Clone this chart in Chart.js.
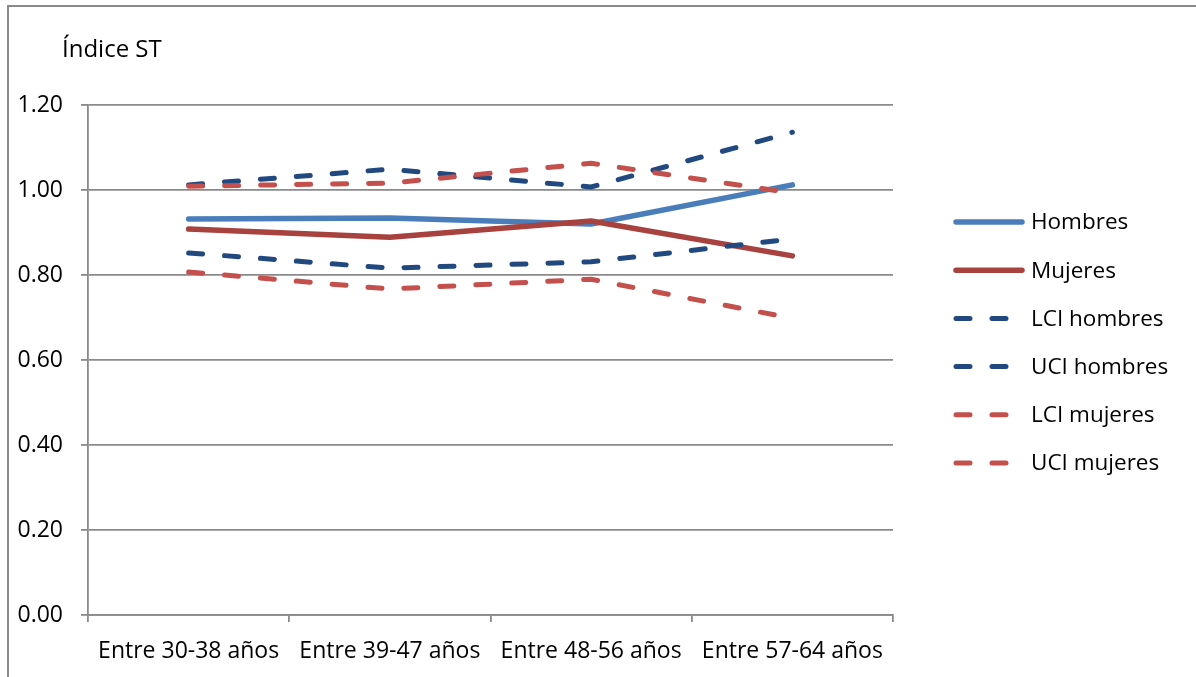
<!DOCTYPE html>
<html>
<head>
<meta charset="utf-8">
<script src="https://cdn.jsdelivr.net/npm/chart.js@4.4.1/dist/chart.umd.min.js"></script>
<style>
    body { margin: 0; background: #fff; }
    #wrap { position: absolute; left: 0; top: 0; width: 1196px; height: 677px; overflow: hidden; }
    #frame { position: absolute; left: 7px; top: 5px; width: 1400px; height: 900px; border: 2px solid #8a8a8a; }
    canvas { position: absolute; left: 0; top: 0; }
</style>
</head>
<body>
<div id="wrap">
    <div id="frame"></div>
    <canvas id="chart" width="1196" height="677"></canvas>
</div>
<script>
    const categories = ['Entre 30-38 años', 'Entre 39-47 años', 'Entre 48-56 años', 'Entre 57-64 años'];
    const hombres = [0.932, 0.934, 0.920, 1.012];
    const mujeres = [0.908, 0.889, 0.927, 0.845];
    const lciHombres = [0.852, 0.816, 0.831, 0.885];
    const uciHombres = [1.012, 1.049, 1.007, 1.136];
    const lciMujeres = [0.807, 0.767, 0.790, 0.698];
    const uciMujeres = [1.009, 1.016, 1.063, 0.993];
    const yTicks = [0, 0.2, 0.4, 0.6, 0.8, 1.0, 1.2];

    const FONT = "'Open Sans', sans-serif";
    const gridColor = '#8a8a8a';
    const DASH = [14, 22];

    const solid = (label, data, color) => ({
        label: label, data: data, borderColor: color, backgroundColor: color,
        borderWidth: 5.5, pointRadius: 0, tension: 0, borderCapStyle: 'round', borderJoinStyle: 'round'
    });
    const dashed = (label, data, color) => ({
        label: label, data: data, borderColor: color, backgroundColor: color,
        borderWidth: 5, borderDash: DASH, borderCapStyle: 'round',
        pointRadius: 0, tension: 0
    });

    // axis title + legend drawn by hand so they sit where the original has them
    const extras = {
        id: 'extras',
        afterDraw(chart) {
            const ctx = chart.ctx;
            ctx.save();
            ctx.font = '24px ' + FONT;
            ctx.fillStyle = '#000';
            ctx.textBaseline = 'middle';
            ctx.fillText('Índice ST', 62, 50);

            ctx.font = '22.5px ' + FONT;
            chart.data.datasets.forEach((ds, i) => {
                const y = 222 + i * 48.2;
                ctx.beginPath();
                ctx.strokeStyle = ds.borderColor;
                ctx.lineWidth = ds.borderWidth;
                ctx.lineCap = 'round';
                ctx.setLineDash(ds.borderDash || []);
                ctx.moveTo(956, y);
                ctx.lineTo(ds.borderDash ? 1008 : 1022, y);
                ctx.stroke();
                ctx.setLineDash([]);
                ctx.fillText(ds.label, 1031, y + 1);
            });
            ctx.restore();
        }
    };

    const ctx = document.getElementById('chart').getContext('2d');
    const datasets = [
        solid('Hombres', hombres, '#4A7EBB'),
        solid('Mujeres', mujeres, '#A8423F'),
        dashed('LCI hombres', lciHombres, '#21497F'),
        dashed('UCI hombres', uciHombres, '#21497F'),
        dashed('LCI mujeres', lciMujeres, '#C4504D'),
        dashed('UCI mujeres', uciMujeres, '#C4504D')
    ];
    datasets.forEach((ds, i) => { ds.order = datasets.length - i; });

    new Chart(ctx, {
        type: 'line',
        data: { labels: categories, datasets: datasets },
        options: {
            responsive: false,
            animation: false,
            layout: { padding: { left: 8, top: 105, right: 303, bottom: 10 } },
            plugins: {
                legend: { display: false },
                tooltip: { enabled: false }
            },
            scales: {
                x: {
                    offset: true,
                    grid: {
                        offset: true, drawOnChartArea: false, drawTicks: true,
                        tickLength: 7, color: gridColor, lineWidth: 1.8
                    },
                    border: { color: gridColor, width: 1.8 },
                    ticks: { color: '#000', padding: 16, font: { family: FONT, size: 23 }, maxRotation: 0 },
                    afterFit(scale) { scale.height = 52; }
                },
                y: {
                    min: 0,
                    max: 1.2,
                    afterBuildTicks(scale) { scale.ticks = yTicks.map(v => ({ value: v })); },
                    grid: { color: gridColor, lineWidth: 1.8, tickLength: 7 },
                    border: { color: gridColor, width: 1.8 },
                    ticks: {
                        color: '#000', padding: 18, font: { family: FONT, size: 23 },
                        callback: v => v.toFixed(2)
                    },
                    afterFit(scale) { scale.width = 80; }
                }
            }
        },
        plugins: [extras]
    });
</script>
</body>
</html>
